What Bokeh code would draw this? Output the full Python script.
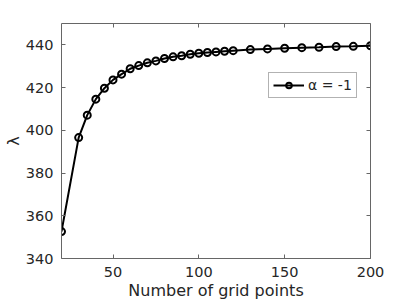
from bokeh.plotting import figure
from bokeh.models import LinearAxis, FixedTicker, Range1d, Legend, LegendItem
from bokeh.embed import file_html
from bokeh.resources import INLINE

grid_points = [20, 30, 35, 40, 45, 50, 55, 60, 65, 70, 75, 80, 85, 90, 95, 100,
               105, 110, 115, 120, 130, 140, 150, 160, 170, 180, 190, 200]
lam = [352.6, 396.6, 407.1, 414.6, 419.7, 423.6, 426.3, 428.8, 430.3, 431.6, 432.5,
       433.6, 434.4, 434.9, 435.6, 436.1, 436.4, 436.7, 437.0, 437.3, 437.8, 438.1,
       438.4, 438.7, 438.9, 439.2, 439.3, 439.6]
x_ticks = [50, 100, 150, 200]
y_ticks = [340, 360, 380, 400, 420, 440]
series_label = "α = -1"

FONT = "DejaVu Sans"
AXC = "#666666"
TXT = "#262626"

p = figure(width=409, height=307, output_backend="svg", toolbar_location=None,
           x_range=Range1d(20, 200), y_range=Range1d(340, 450),
           min_border_left=61, min_border_right=39, min_border_top=23, min_border_bottom=49,
           x_axis_label="Number of grid points", y_axis_label="λ")
p.xgrid.visible = False
p.ygrid.visible = False
p.outline_line_color = None
p.background_fill_color = "white"

def style(ax, ticks, labels=True):
    ax.ticker = FixedTicker(ticks=ticks)
    ax.axis_line_color = AXC
    ax.axis_line_width = 1
    ax.major_tick_line_color = AXC
    ax.major_tick_in = 4
    ax.major_tick_out = 0
    ax.minor_tick_line_color = None
    ax.major_label_text_font = FONT
    ax.major_label_text_font_size = "14.5px"
    ax.major_label_text_color = TXT
    ax.axis_label_text_font = FONT
    ax.axis_label_text_font_size = "16px"
    ax.axis_label_text_font_style = "normal"
    ax.axis_label_text_color = TXT
    if not labels:
        ax.major_label_text_color = None
        ax.major_label_standoff = 0

style(p.xaxis[0], x_ticks)
p.xaxis[0].major_label_standoff = 8
p.xaxis[0].axis_label_standoff = 1
style(p.yaxis[0], y_ticks)
p.yaxis[0].major_label_standoff = 8
p.yaxis[0].axis_label_standoff = 0

top = LinearAxis()
style(top, x_ticks, labels=False)
p.add_layout(top, "above")
right = LinearAxis()
style(right, y_ticks, labels=False)
p.add_layout(right, "right")

r = p.line(grid_points, lam, line_color="black", line_width=2)
m = p.scatter(grid_points, lam, size=7, marker="circle", fill_color=None,
              line_color="black", line_width=2)

legend = Legend(items=[LegendItem(label=series_label, renderers=[r, m])],
                location=(207, 160))
legend.label_text_font = FONT
legend.label_text_font_size = "14px"
legend.label_text_color = TXT
legend.border_line_color = AXC
legend.border_line_width = 1
legend.glyph_width = 31
legend.glyph_height = 14
legend.padding = 4
legend.margin = 0
legend.spacing = 0
legend.label_standoff = 4
legend.label_height = 14
p.add_layout(legend, "center")

open("out.html", "w").write(file_html(p, INLINE))
